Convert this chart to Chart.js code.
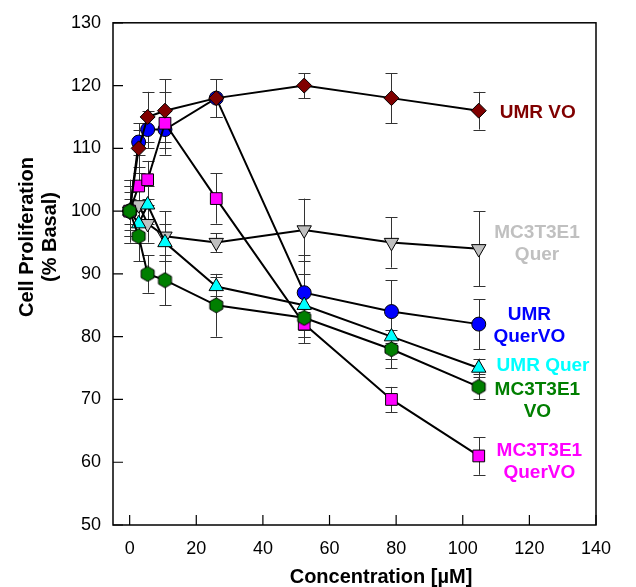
<!DOCTYPE html>
<html>
<head>
<meta charset="utf-8">
<title>Cell Proliferation</title>
<script src="https://cdn.jsdelivr.net/npm/chart.js@4.4.0/dist/chart.umd.min.js"></script>
<style>
  html, body { margin: 0; padding: 0; background: #fff; }
  #wrap { width: 636px; height: 587px; }
</style>
</head>
<body>
<div id="wrap"><canvas id="chart" width="636" height="587"></canvas></div>
<script>
// concentrations as plotted in the figure (µM)
const concentrations = [0, 2.7, 5.4, 10.6, 26, 52.4, 78.6, 104.8];

const umrVO = [100, 110, 115, 116, 118, 120, 118, 116];
const umrVOErr = [3, 4, 4, 5, 3, 2, 4, 3];

const umrQuerVO = [100, 111, 113, 113, 118, 87, 84, 82];
const umrQuerVOErr = [2, 2, 3, 3, 3, 6, 5, 4];

const mcQuer = [100, 101, 98, 96, 95, 97, 95, 94];
const mcQuerErr = [5, 3, 3, 4, 1.5, 5, 4, 6];

const umrQuer = [100, 98, 101, 95, 88, 85, 80, 75];
const umrQuerErr = [4, 3, 3, 3, 1.5, 5, 3.5, 1.5];

const mcVO = [100, 96, 90, 89, 85, 83, 78, 72];
const mcVOErr = [4, 4, 3, 4, 5, 4, 3, 2];

const mcQuerVO = [100, 104, 105, 114, 102, 82, 70, 61];
const mcQuerVOErr = [5, 3, 3, 5, 4, 2, 2, 3];

const xTicks = [0, 20, 40, 60, 80, 100, 120, 140];
const yTicks = [50, 60, 70, 80, 90, 100, 110, 120, 130];

const FONT = "'Liberation Sans', Arial, Helvetica, sans-serif";

const hexagon = (r, fill) => {
  const c = document.createElement('canvas');
  const size = Math.ceil(r * 2 + 2);
  c.width = size;
  c.height = size;
  const g = c.getContext('2d');
  g.beginPath();
  for (let k = 0; k < 6; k++) {
    const a = (Math.PI / 3) * k - Math.PI / 2;
    const px = size / 2 + r * Math.cos(a);
    const py = size / 2 + r * Math.sin(a);
    if (k === 0) g.moveTo(px, py); else g.lineTo(px, py);
  }
  g.closePath();
  g.fillStyle = fill;
  g.fill();
  g.strokeStyle = '#000';
  g.lineWidth = 1;
  g.stroke();
  return c;
};

// first entry is drawn on top
const series = [
  { label: 'MC3T3E1 VO', values: mcVO, errors: mcVOErr, color: '#007f00', style: hexagon(7.5, '#007f00'), radius: 8 },
  { label: 'UMR VO', values: umrVO, errors: umrVOErr, color: '#800000', style: 'rectRot', radius: 7.5 },
  { label: 'MC3T3E1 QuerVO', values: mcQuerVO, errors: mcQuerVOErr, color: '#ff00ff', style: 'rect', radius: 8.3 },
  { label: 'UMR Quer', values: umrQuer, errors: umrQuerErr, color: '#00ffff', style: 'triangle', radius: 8.3 },
  { label: 'MC3T3E1 Quer', values: mcQuer, errors: mcQuerErr, color: '#c0c0c0', style: 'triangle', radius: 8.3, rotation: 180 },
  { label: 'UMR QuerVO', values: umrQuerVO, errors: umrQuerVOErr, color: '#0000ff', style: 'circle', radius: 7 },
];

// text labels at the right end of the curves (chart units)
const seriesLabels = [
  { lines: ['UMR VO'], color: '#800000', x: 122.5, y: 115.6 },
  { lines: ['MC3T3E1', 'Quer'], color: '#c0c0c0', x: 122.3, y: 94.8 },
  { lines: ['UMR', 'QuerVO'], color: '#0000ff', x: 120, y: 81.8 },
  { lines: ['UMR Quer'], color: '#00ffff', x: 124.1, y: 75.4 },
  { lines: ['MC3T3E1', 'VO'], color: '#007f00', x: 122.4, y: 69.8 },
  { lines: ['MC3T3E1', 'QuerVO'], color: '#ff00ff', x: 123, y: 60 },
];

const errorBars = {
  id: 'errorBars',
  beforeDatasetsDraw(chart) {
    const { ctx, scales: { x, y } } = chart;
    ctx.save();
    ctx.strokeStyle = '#333';
    ctx.lineWidth = 1;
    series.forEach((s) => {
      s.values.forEach((v, i) => {
        const e = s.errors[i];
        const px = Math.round(x.getPixelForValue(concentrations[i])) + 0.5;
        const top = y.getPixelForValue(v + e);
        const bot = y.getPixelForValue(v - e);
        ctx.beginPath();
        ctx.moveTo(px, top);
        ctx.lineTo(px, bot);
        ctx.moveTo(px - 6, Math.round(top) + 0.5);
        ctx.lineTo(px + 6, Math.round(top) + 0.5);
        ctx.moveTo(px - 6, Math.round(bot) + 0.5);
        ctx.lineTo(px + 6, Math.round(bot) + 0.5);
        ctx.stroke();
      });
    });
    ctx.restore();
  },
};

const frame = {
  id: 'frame',
  afterDraw(chart) {
    const { ctx, chartArea: a, scales: { x, y } } = chart;
    ctx.save();
    ctx.strokeStyle = '#000';
    ctx.lineWidth = 1.5;
    ctx.strokeRect(a.left, a.top, a.right - a.left, a.bottom - a.top);
    ctx.lineWidth = 1.2;
    ctx.beginPath();
    xTicks.forEach((t) => {
      const px = x.getPixelForValue(t);
      ctx.moveTo(px, a.bottom);
      ctx.lineTo(px, a.bottom - 10);
    });
    yTicks.forEach((t) => {
      const py = y.getPixelForValue(t);
      ctx.moveTo(a.left, py);
      ctx.lineTo(a.left + 10, py);
    });
    ctx.stroke();

    // axis titles
    ctx.fillStyle = '#000';
    ctx.font = `bold 20px ${FONT}`;
    ctx.textAlign = 'center';
    ctx.textBaseline = 'middle';
    ctx.fillText('Concentration [\u00b5M]', 381, 577);
    ctx.save();
    ctx.translate(27, 237);
    ctx.rotate(-Math.PI / 2);
    ctx.fillText('Cell Proliferation', 0, 0);
    ctx.fillText('(% Basal)', 0, 23);
    ctx.restore();

    // curve labels
    ctx.font = `bold 19px ${FONT}`;
    seriesLabels.forEach((l) => {
      const px = x.getPixelForValue(l.x);
      const py = y.getPixelForValue(l.y);
      const lh = 22;
      const start = py - ((l.lines.length - 1) * lh) / 2;
      ctx.fillStyle = l.color;
      l.lines.forEach((t, k) => ctx.fillText(t, px, start + k * lh));
    });
    ctx.restore();
  },
};

new Chart(document.getElementById('chart'), {
  type: 'line',
  data: {
    datasets: series.map((s) => ({
      label: s.label,
      data: s.values.map((v, i) => ({ x: concentrations[i], y: v })),
      borderColor: '#000',
      borderWidth: 2,
      pointStyle: s.style,
      pointRadius: s.radius,
      pointRotation: s.rotation || 0,
      pointBackgroundColor: s.color,
      pointBorderColor: '#000',
      pointBorderWidth: 1,
      tension: 0,
    })),
  },
  options: {
    responsive: false,
    animation: false,
    layout: { padding: { top: 20, right: 40, left: 0, bottom: 0 } },
    plugins: { legend: { display: false }, tooltip: { enabled: false } },
    scales: {
      x: {
        type: 'linear',
        min: -5,
        max: 140,
        afterBuildTicks: (s) => { s.ticks = xTicks.map((v) => ({ value: v })); },
        afterFit: (s) => { s.height = 62; },
        grid: { display: false, drawTicks: false },
        border: { display: false },
        ticks: { color: '#000', padding: 13, font: { family: FONT, size: 18 } },
      },
      y: {
        type: 'linear',
        min: 50,
        max: 130,
        afterBuildTicks: (s) => { s.ticks = yTicks.map((v) => ({ value: v })); },
        afterFit: (s) => { s.width = 113; },
        grid: { display: false, drawTicks: false },
        border: { display: false },
        ticks: { color: '#000', padding: 12, font: { family: FONT, size: 18 } },
      },
    },
  },
  plugins: [errorBars, frame],
});
</script>
</body>
</html>
